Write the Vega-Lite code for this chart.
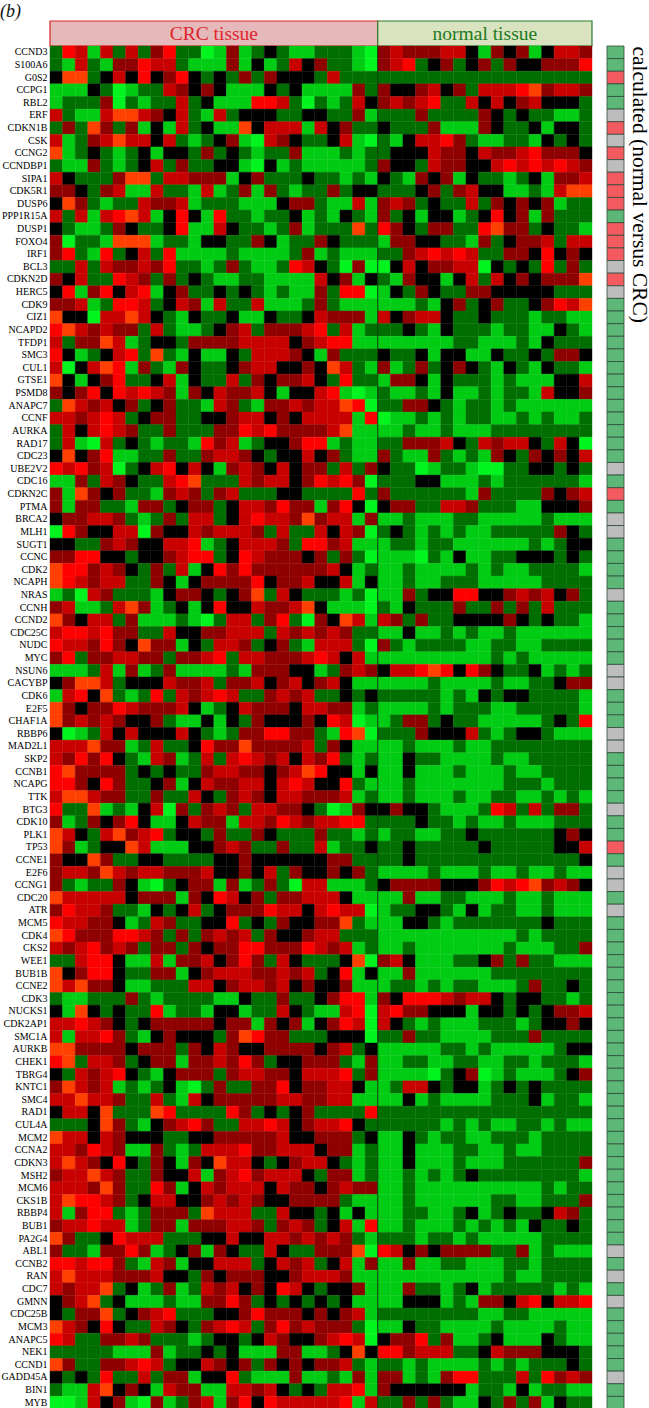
{"$schema":"https://vega.github.io/schema/vega-lite/v6.json","padding":{"top":3,"left":0,"right":0,"bottom":0},"background":"white","bounds":"flush",
"title":{"text":"(b)","anchor":"start","frame":"bounds","font":"Liberation Serif","fontStyle":"italic","fontWeight":"normal","fontSize":18,"color":"#111","offset":-1,"baseline":"top"},
"config":{"view":{"stroke":null},"font":"Liberation Serif"},
"resolve":{"scale":{"fill":"independent","stroke":"independent","color":"independent"}},
"datasets":{"genes":[
{"g":"CCND3","s":"d","v":[2,6,5,1,5,2,5,2,4,6,2,2,0,1,4,1,2,3,2,1,1,2,2,2,1,0,4,5,4,4,4,5,5,3,1,4,3,4,1,3,5,5,4]},
{"g":"S100A6","s":"d","v":[2,1,5,2,1,4,4,6,5,5,2,1,1,1,4,1,3,1,2,5,3,4,2,2,1,0,4,5,6,2,3,4,2,3,4,2,4,3,3,4,4,4,6]},
{"g":"G0S2","s":"u","v":[3,7,7,2,3,5,3,6,3,4,6,3,2,3,2,4,2,4,3,3,3,2,5,2,2,2,2,2,2,2,2,2,2,2,2,2,2,2,2,2,2,2,2]},
{"g":"CCPG1","s":"d","v":[1,1,1,3,2,0,1,2,2,5,4,3,4,3,1,1,1,3,2,3,1,1,1,1,4,2,4,3,3,4,5,3,4,2,5,5,5,6,7,4,5,5,4]},
{"g":"RBL2","s":"d","v":[1,2,2,2,4,0,2,1,2,2,5,2,3,1,1,1,6,6,5,2,0,2,1,2,5,3,4,5,4,5,6,2,2,5,3,5,3,4,5,3,3,3,2]},
{"g":"ERF","s":"n","v":[5,2,1,1,5,7,7,5,4,3,5,2,1,5,2,3,3,3,2,2,3,3,2,2,4,1,2,2,2,4,2,2,2,2,4,3,2,3,2,2,1,1,2]},
{"g":"CDKN1B","s":"u","v":[2,4,2,7,4,2,4,1,3,1,5,2,3,1,1,7,3,5,5,5,1,5,3,4,2,2,3,2,2,2,4,1,1,1,4,3,2,2,3,1,3,3,2]},
{"g":"CSK","s":"n","v":[5,1,2,4,5,7,5,5,3,5,2,1,2,3,4,1,0,5,4,3,2,2,3,5,1,0,2,1,3,5,5,6,4,2,1,1,2,2,1,3,2,3,2]},
{"g":"CCNG2","s":"u","v":[7,1,2,3,2,1,2,3,1,3,3,2,4,2,3,2,1,2,2,4,1,1,1,2,1,2,2,3,3,3,5,4,4,3,5,4,4,5,6,4,4,4,3]},
{"g":"CCNDBP1","s":"n","v":[2,1,1,4,2,1,2,3,5,2,4,2,2,3,3,1,0,3,1,2,1,1,1,1,1,2,4,3,3,2,5,4,4,3,3,5,6,5,6,5,6,5,4]},
{"g":"SIPA1","s":"u","v":[5,3,2,2,2,4,7,7,2,5,5,4,4,4,1,3,4,2,2,2,3,2,2,1,2,1,3,2,1,4,3,4,1,3,2,2,1,2,3,1,4,4,5]},
{"g":"CDK5R1","s":"u","v":[4,4,3,2,4,5,1,1,5,2,2,1,5,1,2,4,1,4,2,1,2,2,4,2,3,3,2,2,2,3,4,2,4,5,3,3,1,1,2,1,5,7,7]},
{"g":"DUSP6","s":"u","v":[3,7,4,2,1,2,2,5,4,4,5,1,2,2,2,1,1,1,3,4,4,2,1,1,5,1,4,5,4,2,3,2,2,5,2,4,3,4,3,4,1,2,2]},
{"g":"PPP1R15A","s":"d","v":[5,2,5,1,5,6,7,5,1,3,6,3,1,6,2,2,1,2,2,3,1,2,1,3,2,1,4,2,3,1,3,3,1,2,3,6,3,4,1,4,2,2,2]},
{"g":"DUSP1","s":"u","v":[3,2,1,1,2,4,3,2,2,3,6,1,1,5,3,2,2,1,2,4,1,2,2,2,7,2,6,4,3,2,4,4,2,2,6,7,4,4,2,3,2,2,1]},
{"g":"FOXO4","s":"u","v":[4,0,2,2,1,7,7,7,1,2,2,1,3,3,2,2,4,3,1,2,2,4,3,2,2,2,1,4,4,3,3,2,2,1,4,2,3,4,4,5,2,5,5]},
{"g":"IRF1","s":"u","v":[4,6,2,1,6,2,3,5,2,6,1,1,1,1,2,1,1,1,1,2,4,1,2,1,1,1,2,2,4,5,6,5,6,5,2,2,4,4,3,6,3,4,3]},
{"g":"BCL3","s":"n","v":[2,2,5,2,5,4,4,5,4,6,2,2,1,2,4,2,1,1,2,6,5,3,2,0,4,0,0,3,5,3,4,4,5,5,0,3,2,3,2,6,2,4,2]},
{"g":"CDKN2D","s":"u","v":[4,3,5,2,2,6,5,4,2,4,2,3,2,1,1,2,2,1,1,1,1,5,3,4,1,3,2,1,4,3,3,1,3,5,2,5,3,4,3,4,4,4,7]},
{"g":"HERC5","s":"n","v":[3,6,1,4,6,3,5,6,1,3,4,2,2,3,2,3,2,1,2,1,1,4,2,6,6,0,1,3,2,4,3,2,2,4,4,3,3,3,3,3,2,2,2]},
{"g":"CDK9","s":"d","v":[4,4,5,1,2,6,6,5,2,3,5,4,1,5,2,2,5,1,1,1,2,4,2,1,1,1,1,1,1,2,1,3,4,2,3,4,2,2,3,4,6,5,7]},
{"g":"CIZ1","s":"d","v":[7,3,3,0,5,5,7,5,3,2,1,3,2,2,3,1,1,3,2,2,3,5,4,4,4,1,5,3,4,5,5,3,2,2,3,2,2,2,1,2,2,1,1]},
{"g":"NCAPD2","s":"d","v":[6,7,5,4,5,4,4,2,5,2,1,1,2,3,4,5,2,4,4,4,5,6,2,5,1,2,2,2,3,2,1,3,2,2,2,1,2,2,1,1,3,2,1]},
{"g":"TFDP1","s":"d","v":[5,2,4,4,7,5,1,2,3,3,2,4,4,4,4,5,5,5,5,3,4,5,6,6,1,1,1,1,1,1,1,1,2,2,1,1,1,2,1,3,2,2,2]},
{"g":"SMC3","s":"d","v":[6,3,1,2,3,5,6,2,7,2,1,3,1,1,3,2,5,5,5,4,3,1,4,2,2,2,3,2,2,3,1,3,3,1,1,3,2,2,3,2,4,4,3]},
{"g":"CUL1","s":"d","v":[5,0,3,5,7,6,1,4,2,1,4,3,2,2,3,4,5,5,3,3,4,3,7,5,2,1,4,1,2,4,2,3,4,3,2,1,3,2,1,3,2,2,1]},
{"g":"GTSE1","s":"d","v":[7,3,1,3,4,6,2,2,3,5,1,3,2,2,5,2,4,3,4,4,5,3,2,6,2,2,1,4,4,3,1,3,2,2,2,1,2,1,1,1,3,3,5]},
{"g":"PSMD8","s":"d","v":[4,3,4,6,3,6,5,6,5,4,1,4,3,5,4,4,5,3,1,3,3,5,6,1,0,1,2,1,1,2,1,3,1,1,2,1,2,2,1,5,3,3,4]},
{"g":"ANAPC7","s":"d","v":[2,7,5,4,5,3,4,2,3,4,2,2,1,5,4,2,1,4,4,5,4,5,5,7,6,0,2,2,4,4,3,2,1,2,2,1,2,1,1,1,1,1,1]},
{"g":"CCNF","s":"d","v":[5,5,4,5,6,5,2,3,4,4,2,2,3,3,4,5,5,3,4,3,5,5,5,5,1,6,0,1,1,2,1,2,1,2,2,1,1,2,1,2,1,1,2]},
{"g":"AURKA","s":"d","v":[2,5,3,5,6,5,4,2,2,4,2,2,2,4,4,6,5,6,4,4,4,4,5,7,1,1,1,1,2,1,1,2,1,1,1,2,2,2,2,2,2,2,2]},
{"g":"RAD17","s":"d","v":[2,5,1,0,5,2,3,2,1,2,2,1,6,4,5,1,2,3,3,4,6,6,1,2,1,1,2,2,4,4,4,5,3,2,5,4,5,5,3,2,5,3,0]},
{"g":"CDC23","s":"d","v":[3,7,3,4,6,1,1,2,2,4,2,2,4,5,5,4,3,2,3,3,5,3,4,2,1,1,4,2,1,1,4,2,1,2,1,4,3,2,4,3,4,3,5]},
{"g":"UBE2V2","s":"n","v":[6,5,6,4,5,0,2,3,5,6,3,5,3,1,4,5,4,3,5,3,4,4,2,5,2,4,3,2,2,0,1,2,2,1,0,0,2,2,3,3,2,3,2]},
{"g":"CDC16","s":"d","v":[1,1,4,2,5,4,3,2,2,5,6,7,2,2,2,5,4,5,5,3,4,6,5,6,4,0,2,2,2,3,3,1,1,1,2,1,2,2,2,2,2,2,1]},
{"g":"CDKN2C","s":"u","v":[4,1,7,4,3,4,2,2,1,4,5,4,2,4,5,2,2,2,3,3,2,2,2,2,6,2,4,2,2,2,2,2,2,1,4,2,2,2,2,4,3,4,5]},
{"g":"PTMA","s":"d","v":[4,1,4,4,2,2,1,4,4,2,3,4,4,2,3,5,5,4,6,4,4,1,4,6,3,0,3,4,4,2,2,5,5,4,2,2,2,1,1,3,3,3,4]},
{"g":"BRCA2","s":"n","v":[3,4,4,5,5,4,2,1,2,4,2,5,5,2,3,5,6,5,5,4,7,4,5,5,1,4,1,1,2,1,1,1,2,2,1,1,1,1,1,2,1,1,1]},
{"g":"MLH1","s":"n","v":[0,6,4,3,3,5,5,0,4,3,3,5,4,5,5,5,4,2,5,2,2,5,3,5,4,0,2,3,2,1,2,1,2,1,1,2,2,2,2,2,4,3,2]},
{"g":"SUGT1","s":"d","v":[3,3,2,2,4,5,4,3,3,5,5,6,1,2,3,5,5,5,4,2,6,6,4,5,1,1,1,2,2,1,2,2,1,1,1,1,1,1,2,1,2,3,3]},
{"g":"CCNC","s":"d","v":[4,4,6,6,3,3,2,3,3,4,5,6,6,2,3,6,5,4,4,4,3,4,2,4,2,0,1,1,1,0,2,1,3,1,1,2,2,3,3,3,2,3,2]},
{"g":"CDK2","s":"d","v":[7,6,6,4,5,4,3,2,4,2,5,1,3,6,4,6,4,4,4,4,4,4,5,3,1,2,1,1,2,1,1,1,1,2,1,2,1,1,2,2,2,2,1]},
{"g":"NCAPH","s":"d","v":[7,6,5,4,5,5,2,2,4,3,1,3,4,4,4,4,6,3,4,4,5,3,3,5,1,3,1,1,2,1,1,2,2,2,1,1,1,1,1,2,2,2,2]},
{"g":"NRAS","s":"n","v":[1,2,0,5,4,2,2,2,1,3,4,4,3,2,3,4,7,2,5,3,2,2,2,1,2,0,1,1,4,2,3,3,6,6,3,3,4,5,4,5,3,4,2]},
{"g":"CCNH","s":"d","v":[4,5,1,1,2,5,7,4,1,2,3,1,3,6,3,3,5,4,4,5,7,3,1,1,1,0,2,1,3,2,2,2,4,2,2,4,2,4,2,5,2,2,2]},
{"g":"CCND2","s":"d","v":[7,4,3,5,5,2,4,1,1,1,2,1,0,2,5,5,2,4,6,2,0,4,3,7,5,1,5,4,2,4,2,2,3,3,3,3,4,3,2,3,2,2,1]},
{"g":"CDC25C","s":"d","v":[5,6,6,5,6,4,4,2,2,5,3,3,4,4,5,5,5,2,5,4,5,4,5,4,2,2,1,1,3,1,1,2,1,2,1,1,2,1,1,1,1,1,1]},
{"g":"NUDC","s":"d","v":[6,5,5,4,6,4,3,7,4,4,1,3,2,5,5,4,2,3,4,2,1,5,5,5,2,0,4,2,1,2,2,2,2,1,1,2,2,1,1,2,2,2,2]},
{"g":"MYC","s":"d","v":[4,6,2,4,4,5,5,4,4,2,4,4,5,6,2,5,5,4,4,4,5,6,5,3,5,1,1,1,1,1,1,1,1,1,1,2,1,2,1,1,1,1,1]},
{"g":"NSUN6","s":"n","v":[1,1,1,2,5,1,4,1,2,4,1,1,1,1,2,1,4,4,4,3,3,1,2,4,5,4,3,5,5,6,7,6,3,6,4,3,2,2,3,1,2,1,2]},
{"g":"CACYBP","s":"n","v":[3,4,7,7,5,2,3,3,3,5,4,4,5,2,4,4,5,3,4,5,3,4,5,3,1,1,1,1,1,1,2,1,1,1,1,2,1,1,2,2,3,4,4]},
{"g":"CDK6","s":"d","v":[1,5,6,3,7,2,1,2,6,2,5,4,5,6,5,2,2,4,5,4,5,2,2,3,2,3,2,2,2,2,2,1,2,1,3,2,3,3,2,2,2,2,1]},
{"g":"E2F5","s":"d","v":[7,4,3,4,4,6,5,4,4,4,5,3,1,2,3,5,4,4,4,3,5,5,4,4,1,2,1,1,1,1,2,1,2,2,2,1,1,2,2,2,2,2,1]},
{"g":"CHAF1A","s":"d","v":[7,4,5,4,5,4,3,3,4,2,1,1,3,1,3,2,4,3,3,3,4,3,6,5,0,1,1,2,4,4,2,3,2,2,1,1,1,1,1,2,3,2,6]},
{"g":"RBBP6","s":"n","v":[3,0,1,2,5,3,5,3,3,3,5,3,2,1,2,4,4,6,6,4,4,2,1,6,7,0,2,2,2,4,3,3,3,5,2,1,2,3,3,2,1,1,1]},
{"g":"MAD2L1","s":"n","v":[5,5,5,7,4,4,1,2,5,2,2,3,6,4,4,7,4,4,4,4,5,2,4,3,1,1,1,1,2,1,1,1,2,1,1,2,2,2,2,2,2,2,2]},
{"g":"SKP2","s":"d","v":[5,4,6,4,6,3,2,1,5,4,1,2,5,2,5,6,5,4,5,3,5,4,6,2,1,2,1,1,3,2,2,1,1,1,1,2,1,1,2,2,2,2,2]},
{"g":"CCNB1","s":"d","v":[6,7,4,4,4,4,2,3,2,3,2,2,4,5,5,4,4,3,4,5,7,6,3,3,1,3,1,1,3,1,1,1,2,1,1,1,2,1,1,2,2,2,2]},
{"g":"NCAPG","s":"d","v":[6,6,4,3,6,4,2,2,3,4,1,3,5,4,4,5,5,3,5,6,5,3,3,6,2,1,1,1,2,1,1,1,1,1,1,1,2,2,2,1,2,2,2]},
{"g":"TTK","s":"d","v":[5,7,7,5,4,4,2,2,4,2,2,5,3,2,4,5,4,3,5,5,4,4,4,5,1,2,1,1,2,1,1,1,2,1,1,2,2,1,1,2,1,2,1]},
{"g":"BTG3","s":"n","v":[6,2,2,7,1,2,1,3,5,0,4,2,4,5,4,2,5,5,4,4,3,2,0,1,4,3,3,4,3,3,2,1,1,1,2,6,5,2,5,2,4,4,2]},
{"g":"CDK10","s":"d","v":[4,1,2,4,3,4,6,3,1,1,3,5,4,4,1,5,5,4,6,5,4,5,5,6,6,2,2,2,2,3,2,2,1,2,1,1,2,1,1,1,2,2,2]},
{"g":"PLK1","s":"d","v":[7,5,3,2,5,7,4,5,6,2,3,3,2,4,2,2,4,3,2,2,2,4,2,2,1,2,1,2,2,1,1,2,2,3,2,2,2,2,2,2,3,4,3]},
{"g":"TP53","s":"u","v":[7,4,1,2,3,3,7,5,1,1,1,3,3,4,5,4,2,2,4,2,2,5,1,2,2,3,2,2,3,2,2,2,2,2,3,2,2,2,2,2,3,3,5]},
{"g":"CCNE1","s":"d","v":[4,3,3,7,4,2,2,3,3,2,2,2,2,3,3,4,3,3,3,3,3,3,4,4,2,2,2,2,3,2,2,2,2,2,2,2,2,2,2,2,2,2,3]},
{"g":"E2F6","s":"n","v":[4,5,5,4,7,5,4,5,5,4,4,4,5,3,3,4,3,5,2,4,3,3,4,3,4,2,1,1,1,1,2,1,1,1,2,1,1,2,1,1,2,1,1]},
{"g":"CCNG1","s":"n","v":[4,2,1,2,2,4,3,1,0,2,3,4,4,1,4,1,2,4,2,0,5,5,1,1,1,2,3,4,4,4,4,3,3,3,4,6,5,6,7,4,5,4,3]},
{"g":"CDC20","s":"d","v":[7,5,5,5,5,5,3,4,4,4,1,4,3,6,5,3,4,2,4,4,5,5,5,3,1,1,1,1,4,1,1,2,2,1,1,1,2,1,1,2,1,1,1]},
{"g":"ATR","s":"n","v":[4,6,5,5,4,2,2,1,3,2,3,5,2,3,4,4,4,6,5,5,3,5,6,5,5,0,1,2,2,3,3,2,1,3,1,2,2,1,1,2,1,1,1]},
{"g":"MCM5","s":"d","v":[6,5,5,4,4,3,1,2,5,4,2,2,3,3,6,2,3,2,4,3,3,4,4,7,2,1,1,1,3,3,2,1,2,2,2,2,2,2,2,3,2,2,2]},
{"g":"CDK4","s":"d","v":[7,6,4,4,4,6,6,5,4,2,4,2,4,5,4,5,2,4,3,3,4,5,5,2,2,2,1,1,1,1,1,1,1,1,1,1,1,2,1,2,2,2,2]},
{"g":"CKS2","s":"d","v":[5,4,5,6,4,5,4,2,4,4,2,4,3,4,4,6,6,4,4,4,6,5,4,5,1,2,1,1,2,1,1,1,1,1,1,1,2,1,1,1,2,2,4]},
{"g":"WEE1","s":"d","v":[2,2,5,6,6,3,1,1,5,1,4,4,5,3,4,6,4,2,5,3,2,2,2,3,7,0,4,5,3,1,1,1,2,2,3,4,2,4,2,2,1,1,1]},
{"g":"BUB1B","s":"d","v":[7,3,4,6,6,3,2,2,4,4,1,3,4,5,5,5,4,4,5,4,5,2,3,6,1,3,1,1,4,1,1,1,1,1,1,2,2,2,2,2,2,2,2]},
{"g":"CCNE2","s":"d","v":[7,5,7,4,4,3,1,1,2,2,2,5,5,3,4,5,5,4,5,3,4,3,3,4,1,1,1,2,2,1,2,1,2,2,1,1,1,2,4,2,2,3,2]},
{"g":"CDK3","s":"d","v":[2,1,1,2,2,2,4,2,1,2,2,2,2,1,1,3,2,2,4,2,2,3,4,6,6,1,4,3,6,6,6,5,4,5,5,3,2,3,3,2,2,1,2]},
{"g":"NUCKS1","s":"d","v":[3,1,7,3,2,3,2,2,6,1,2,2,1,3,3,1,2,2,5,3,2,1,1,5,6,0,5,6,4,4,3,3,3,1,3,3,2,3,2,3,4,4,5]},
{"g":"CDK2AP1","s":"d","v":[5,5,6,5,4,3,2,3,4,4,4,4,4,3,4,4,1,4,3,4,1,3,4,6,5,0,5,3,2,1,2,1,1,1,2,2,2,1,2,3,3,4,3]},
{"g":"SMC1A","s":"d","v":[5,1,5,5,6,4,2,1,3,4,3,3,3,2,4,7,6,4,4,2,2,2,3,3,3,0,2,2,4,2,2,1,1,1,1,2,2,2,4,2,2,2,2]},
{"g":"AURKB","s":"d","v":[7,7,4,4,4,4,3,4,4,4,2,4,3,5,4,3,3,4,4,4,4,3,4,5,2,3,1,1,1,1,1,2,2,1,2,1,1,1,1,1,2,3,3]},
{"g":"CHEK1","s":"d","v":[6,7,2,5,5,4,2,3,4,4,1,4,4,5,4,6,4,2,3,3,4,4,4,2,1,4,1,1,2,2,1,1,2,2,1,1,2,2,1,2,2,2,1]},
{"g":"TBRG4","s":"d","v":[3,2,5,4,5,6,3,2,1,3,4,4,4,2,4,5,5,4,4,3,5,5,5,6,2,4,1,1,1,1,0,2,3,4,0,1,2,1,1,1,2,3,4]},
{"g":"KNTC1","s":"d","v":[4,7,5,4,5,1,2,1,2,3,1,0,2,4,2,2,4,4,6,3,4,4,5,5,3,1,1,2,5,5,3,2,3,3,1,2,3,2,3,2,2,2,2]},
{"g":"SMC4","s":"d","v":[5,5,7,5,5,4,2,2,5,2,1,5,3,4,4,4,4,4,5,5,4,4,5,5,1,1,1,1,3,1,2,1,1,1,1,2,2,2,3,1,2,2,1]},
{"g":"RAD1","s":"d","v":[3,5,5,3,7,2,2,2,7,6,2,2,2,2,6,4,2,3,2,3,4,2,2,2,2,6,2,2,2,2,2,2,2,2,2,2,2,2,2,2,2,2,2]},
{"g":"CUL4A","s":"d","v":[2,2,2,3,7,4,2,1,3,4,5,6,4,2,2,5,5,6,5,3,4,5,5,6,3,2,2,2,2,2,2,1,2,1,2,1,1,2,2,1,2,1,1]},
{"g":"MCM2","s":"d","v":[7,5,5,3,5,4,3,3,3,2,2,3,3,4,4,4,4,4,5,3,3,4,4,4,2,3,1,1,3,2,1,2,2,1,1,2,2,2,1,2,2,2,2]},
{"g":"CCNA2","s":"d","v":[5,5,4,6,5,4,1,1,4,2,1,2,5,5,5,6,4,4,5,5,5,3,4,4,1,2,1,1,3,1,1,1,2,2,1,1,2,1,1,2,2,2,2]},
{"g":"CDKN3","s":"d","v":[5,7,5,4,3,6,3,2,4,3,1,4,3,7,5,5,3,2,3,4,5,5,3,2,1,2,1,1,3,1,1,1,2,1,1,1,2,2,2,2,2,2,4]},
{"g":"MSH2","s":"d","v":[4,5,5,7,5,4,2,2,4,3,3,5,1,4,5,6,4,5,5,5,3,2,4,4,1,2,1,1,2,1,2,1,2,3,2,2,2,2,2,2,2,2,1]},
{"g":"MCM6","s":"d","v":[5,5,5,4,7,4,2,2,6,4,1,3,5,4,5,5,5,3,5,4,4,3,4,5,4,4,1,1,2,1,1,1,1,1,1,1,1,1,1,2,1,2,2]},
{"g":"CKS1B","s":"d","v":[5,7,6,6,5,4,2,3,5,5,3,3,4,5,4,5,4,3,3,4,4,4,4,2,1,1,1,1,2,1,1,1,1,1,1,2,2,1,1,2,2,2,4]},
{"g":"RBBP4","s":"d","v":[5,1,4,6,6,2,1,2,4,4,4,2,7,5,5,5,2,2,5,3,3,2,3,1,3,1,1,1,2,2,1,1,2,3,1,2,3,2,2,3,5,4,2]},
{"g":"BUB1","s":"d","v":[4,5,5,6,5,5,1,2,4,4,1,4,4,4,5,5,4,2,4,5,4,2,3,5,1,6,1,1,2,1,1,1,2,1,2,1,2,1,3,2,2,3,2]},
{"g":"PA2G4","s":"d","v":[7,4,2,2,3,6,5,5,5,2,2,2,3,3,5,3,3,5,5,4,5,4,5,4,2,1,2,2,2,1,2,2,1,2,1,1,1,1,1,2,2,2,2]},
{"g":"ABL1","s":"n","v":[4,2,2,1,4,4,6,4,1,2,3,4,1,4,3,2,2,5,3,2,2,4,4,4,7,0,6,5,3,4,3,4,4,4,4,2,2,4,1,2,1,1,1]},
{"g":"CCNB2","s":"d","v":[6,6,5,6,6,4,2,1,5,4,1,3,3,5,5,5,2,3,5,4,5,2,3,5,1,4,1,1,4,1,1,2,2,1,1,1,2,2,1,2,2,2,2]},
{"g":"RAN","s":"n","v":[5,7,5,5,5,4,4,4,5,3,3,2,4,3,4,4,4,3,3,4,5,5,5,4,1,1,1,1,1,1,1,1,1,1,1,1,2,1,1,2,2,2,2]},
{"g":"CDC7","s":"d","v":[5,4,5,5,7,2,3,1,2,4,1,2,5,4,5,3,4,3,6,5,3,2,3,3,4,1,1,1,4,2,2,1,2,3,1,2,2,2,2,2,1,2,1]},
{"g":"GMNN","s":"n","v":[3,4,5,7,2,3,1,1,1,2,1,1,4,4,6,4,2,3,2,3,2,3,2,3,1,1,1,1,3,3,3,1,2,1,4,4,3,5,6,3,5,5,6]},
{"g":"CDC25B","s":"d","v":[3,2,4,4,7,2,3,4,5,6,2,2,2,3,3,4,6,4,4,4,3,4,3,4,5,1,2,2,2,2,2,2,2,2,1,1,2,2,1,1,1,1,1]},
{"g":"MCM3","s":"d","v":[7,5,4,3,6,3,2,2,5,4,3,2,4,5,6,5,2,4,6,4,5,4,4,4,2,0,1,1,3,2,2,1,1,1,1,2,1,1,1,1,2,1,1]},
{"g":"ANAPC5","s":"d","v":[6,5,2,2,4,4,5,4,2,2,2,1,2,3,3,2,3,5,4,3,3,4,5,6,5,0,3,4,4,6,2,4,1,1,2,3,1,1,1,3,2,1,1]},
{"g":"NEK1","s":"d","v":[2,2,2,2,2,1,1,1,4,1,2,2,3,2,3,1,1,1,4,4,1,1,2,3,7,3,6,6,4,5,5,5,2,2,3,5,4,4,4,3,3,3,2]},
{"g":"CCND1","s":"d","v":[7,4,2,2,4,4,5,6,5,2,3,3,5,4,3,4,2,4,3,4,3,4,4,5,2,1,2,2,1,2,1,1,1,1,2,1,2,1,2,2,2,3,2]},
{"g":"GADD45A","s":"n","v":[3,2,3,2,6,2,2,5,2,4,4,1,3,3,6,2,1,1,1,4,1,1,2,1,4,1,4,4,1,2,1,4,6,6,2,2,2,5,2,6,4,5,4]},
{"g":"BIN1","s":"d","v":[2,1,1,5,7,3,4,3,1,5,4,4,1,1,5,5,4,5,3,2,3,2,5,5,6,1,4,3,3,3,3,3,3,1,2,2,1,3,1,2,2,1,1]},
{"g":"MYB","s":"d","v":[0,0,1,5,3,4,1,0,4,1,2,4,5,1,4,6,3,6,5,5,5,5,5,6,1,5,2,2,4,2,4,2,1,1,3,2,4,2,4,1,3,2,2]}
],
"groups":[{"label":"CRC tissue","a":0,"b":26,"m":13},{"label":"normal tissue","a":26,"b":43,"m":34.5}]},
"vconcat":[
{"width":542,"height":25,"data":{"name":"groups"},
"encoding":{"y":{"datum":"h","type":"nominal","axis":{"labels":false,"ticks":false,"domain":false,"title":null,"minExtent":50,"maxExtent":50}}},
"layer":[
{"mark":{"type":"rect","strokeWidth":1.2},"encoding":{"x":{"field":"a","type":"quantitative","scale":{"domain":[0,43],"nice":false,"zero":false},"axis":null},"x2":{"field":"b"},
"fill":{"condition":{"test":"datum.a===0","value":"#E5B8B9"},"value":"#D9E3BF"},"stroke":{"condition":{"test":"datum.a===0","value":"#D8232A"},"value":"#2A7A2A"}}},
{"mark":{"type":"text","fontSize":19.5,"font":"Liberation Serif","baseline":"middle"},"encoding":{"x":{"field":"m","type":"quantitative","axis":null},"text":{"field":"label"},"color":{"condition":{"test":"datum.a===0","value":"#E0242C"},"value":"#217A21"}}}
]},
{"spacing":15,"bounds":"flush","resolve":{"scale":{"fill":"independent","stroke":"independent"}},"hconcat":[
{"width":542,"height":1363,"data":{"name":"genes"},
"transform":[{"flatten":["v"]},{"window":[{"op":"row_number","as":"c"}],"groupby":["g"]}],
"layer":[
{"mark":{"type":"rect","strokeWidth":0.4},"encoding":{
"x":{"field":"c","type":"ordinal","axis":null,"scale":{"paddingInner":0,"paddingOuter":0}},
"y":{"field":"g","type":"nominal","sort":null,"scale":{"paddingInner":0,"paddingOuter":0},"axis":{"title":null,"ticks":false,"domain":false,"labelFontSize":10,"labelPadding":3,"labelColor":"#000","labelFont":"Liberation Serif","minExtent":50,"maxExtent":50,"labelOverlap":false}},
"fill":{"field":"v","type":"ordinal","legend":null,"scale":{"domain":[0,1,2,3,4,5,6,7],"range":["#00F51E","#00CC14","#006E00","#000000","#8F0000","#C80000","#FF0000","#FF4000"]}},
"stroke":{"field":"v","type":"ordinal","legend":null,"scale":{"domain":[0,1,2,3,4,5,6,7],"range":["#00F51E","#00CC14","#006E00","#000000","#8F0000","#C80000","#FF0000","#FF4000"]}}}},
{"data":{"values":[{"c":27}]},"transform":[],"mark":{"type":"rule","color":"#0B3B0B","strokeWidth":1},"encoding":{"x":{"field":"c","type":"ordinal","bandPosition":0}}}
]},
{"width":17,"height":1363,"data":{"name":"genes"},"mark":{"type":"rect","stroke":"#2E4A38","strokeWidth":0.8},"encoding":{
"y":{"field":"g","type":"nominal","sort":null,"scale":{"paddingInner":0,"paddingOuter":0},"axis":{"orient":"right","labels":false,"ticks":false,"domain":false,"title":"calculated (normal versus CRC)","titleAngle":90,"titleAnchor":"start","titleFont":"Liberation Serif","titleFontSize":21.5,"titleFontWeight":"normal","titleColor":"#000","titlePadding":3}},
"fill":{"field":"s","type":"nominal","legend":null,"scale":{"domain":["d","u","n"],"range":["#5DB877","#F45B60","#BDBDBD"]}}}}
]}
],"spacing":0}
